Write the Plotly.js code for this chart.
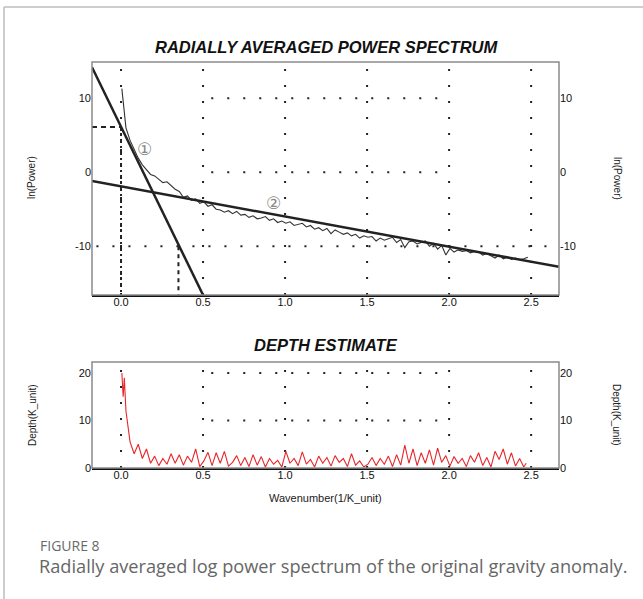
<!DOCTYPE html>
<html>
<head>
<meta charset="utf-8">
<script src="https://cdn.plot.ly/plotly-3.0.1.min.js"></script>
<style>html,body{margin:0;padding:0;background:#fff;}#chart{width:643px;height:599px;}</style>
</head>
<body>
<div id="chart"></div>
<script>
// ---- Data: radially averaged power spectrum ----
const specK = [0.005,0.030,0.055,0.080,0.105,0.130,0.155,0.180,0.205,0.230,0.255,0.280,0.305,0.330,0.355,0.380,0.405,0.430,0.455,0.480,
  0.505,0.530,0.555,0.580,0.605,0.630,0.655,0.680,0.705,0.730,0.755,0.780,0.805,0.830,0.855,0.880,0.905,0.930,0.955,0.980,
  1.005,1.030,1.055,1.080,1.105,1.130,1.155,1.180,1.205,1.230,1.255,1.280,1.305,1.330,1.355,1.380,1.405,1.430,1.455,1.480,
  1.505,1.530,1.555,1.580,1.605,1.630,1.655,1.680,1.705,1.730,1.755,1.780,1.805,1.830,1.855,1.880,1.905,1.930,1.955,1.980,
  2.005,2.030,2.055,2.080,2.105,2.130,2.155,2.180,2.205,2.230,2.255,2.280,2.305,2.330,2.355,2.380,2.405,2.430,2.455,2.480];
const lnPower = [11.3,6.0,4.3,3.0,1.9,1.0,0.4,-0.3,-0.5,-0.9,-1.4,-1.3,-1.8,-2.3,-2.6,-3.4,-3.2,-3.8,-3.6,-4.2,
  -4.0,-4.6,-4.4,-5.0,-5.1,-5.4,-5.2,-5.6,-5.3,-5.8,-5.7,-6.1,-5.9,-6.3,-6.2,-6.0,-6.5,-6.3,-6.8,-6.6,
  -6.9,-6.7,-7.2,-7.0,-6.9,-7.4,-7.2,-7.7,-7.5,-7.9,-7.6,-8.3,-7.8,-8.1,-8.4,-8.2,-8.6,-8.4,-8.9,-8.6,
  -8.8,-8.7,-9.3,-8.9,-9.2,-9.0,-8.8,-9.5,-9.1,-10.2,-9.4,-9.3,-9.7,-9.5,-9.3,-10.0,-9.6,-10.4,-9.9,-11.2,
  -10.3,-10.8,-10.5,-10.7,-10.6,-10.9,-10.7,-10.8,-11.2,-11.0,-11.3,-11.6,-11.2,-11.7,-11.5,-11.8,-11.6,-11.8,-11.7,-11.5];

// fitted segments (1) deep and (2) shallow
const fit1K = [-0.177, 0.50];
const fit1Y = [14.2, -16.6];
const fit2K = [-0.177, 2.67];
const fit2Y = [-1.2, -12.8];

// guide lines reading the intercept of fit 1
const guideHK = [-0.177, 0.0];
const guideHY = [6.1, 6.1];
const guideV1K = [0.0, 0.0];
const guideV1Y = [6.1, -16.6];
const guideV2K = [0.35, 0.35];
const guideV2Y = [-10.0, -16.6];

// ---- Data: depth estimate ----
const depthK = [0.005,0.013,0.020,0.030,0.055,0.080,0.105,0.130,0.155,0.180,0.205,0.230,0.255,0.280,0.305,0.330,0.355,0.380,0.405,0.430,
  0.455,0.480,0.505,0.530,0.555,0.580,0.605,0.630,0.655,0.680,0.705,0.730,0.755,0.780,0.805,0.830,0.855,0.880,0.905,0.930,
  0.955,0.980,1.005,1.030,1.055,1.080,1.105,1.130,1.155,1.180,1.205,1.230,1.255,1.280,1.305,1.330,1.355,1.380,1.405,1.430,
  1.455,1.480,1.505,1.530,1.555,1.580,1.605,1.630,1.655,1.680,1.705,1.730,1.755,1.780,1.805,1.830,1.855,1.880,1.905,1.930,
  1.955,1.980,2.005,2.030,2.055,2.080,2.105,2.130,2.155,2.180,2.205,2.230,2.255,2.280,2.305,2.330,2.355,2.380,2.405,2.430,
  2.455,2.470];
const depthVal = [20,15,19,12,5.5,3,5,2,4,1,2.5,0.5,2,0.8,3,1,2.8,0.6,2.5,1.2,
  4,0.3,1.5,3.3,0.5,3.2,1,3.5,0.4,1.2,2.6,0.5,2.2,0.3,2.8,0.6,2.4,0.2,2,0.8,
  1.6,0.2,3.5,1,2,0.5,3.4,0.8,1.8,0.2,2.5,1,2.2,0.4,2.6,1.2,2,0.3,3,0.6,
  1.5,0.2,0.8,2.2,0.5,2,0.8,2.5,0.3,2.8,0.6,4.8,1,4,0.5,3.2,1,3.8,0.6,4.2,
  1.2,2.6,0.4,2.4,1,2,0.3,2.6,1.2,3.2,0.5,2.2,0.2,3.5,1.8,4,0.8,3.2,0.4,2,
  0.2,1];

const kTicks = [0, 0.5, 1.0, 1.5, 2.0, 2.5];
const kTickText = ["0.0", "0.5", "1.0", "1.5", "2.0", "2.5"];
const powerTicks = [-10, 0, 10];
const powerTickText = ["-10", "0", "10"];
const depthTicks = [0, 10, 20];
const depthTickText = ["0", "10", "20"];

// ---- Layout helpers ----
const W = 643, H = 599;
const px = v => v / W;
const py = v => 1 - v / H;
const xDom = [px(92), px(559)];
const kRange = [-0.177, 2.67];
const pRange = [-16.6, 14.9];
const dRange = [0, 22.3];
const FONT = "Liberation Sans, Arial, sans-serif";
const tickFont = {family: FONT, size: 11, color: "#111"};

const traces = [
  {x: specK, y: lnPower, xaxis: "x", yaxis: "y", type: "scatter", mode: "lines",
   line: {color: "#333", width: 1.1}, hoverinfo: "skip"},
  {x: fit1K, y: fit1Y, xaxis: "x", yaxis: "y", mode: "lines", line: {color: "#222", width: 2.5}},
  {x: fit2K, y: fit2Y, xaxis: "x", yaxis: "y", mode: "lines", line: {color: "#222", width: 2.5}},
  {x: guideHK, y: guideHY, xaxis: "x", yaxis: "y", mode: "lines", line: {color: "#222", width: 2, dash: "5px,4px"}},
  {x: guideV1K, y: guideV1Y, xaxis: "x", yaxis: "y", mode: "lines", line: {color: "#222", width: 2, dash: "4px,3px,2px,3px"}},
  {x: guideV2K, y: guideV2Y, xaxis: "x", yaxis: "y", mode: "lines", line: {color: "#222", width: 2, dash: "4px,4px"}},
  {x: [null], y: [null], xaxis: "x", yaxis: "y2", mode: "lines", hoverinfo: "skip"},
  {x: depthK, y: depthVal, xaxis: "x2", yaxis: "y3", mode: "lines", line: {color: "#e8262a", width: 1.1}},
  {x: [null], y: [null], xaxis: "x2", yaxis: "y4", mode: "lines", hoverinfo: "skip"}
];

const dotLine = {color: "#222", width: 2, dash: "2px,14px"};
const shapes = [];
// vertical dotted grid lines
kTicks.forEach(k => {
  shapes.push({type: "line", xref: "x", yref: "y domain", x0: k, x1: k, y0: 0, y1: 1, line: dotLine, layer: "below"});
  shapes.push({type: "line", xref: "x2", yref: "y3 domain", x0: k, x1: k, y0: 0, y1: 1, line: dotLine, layer: "below"});
});
// partial horizontal dotted lines
[10, 0].forEach(v => shapes.push({type: "line", xref: "x", yref: "y", x0: 0.55, x1: 1.97, y0: v, y1: v, line: dotLine, layer: "below"}));
shapes.push({type: "line", xref: "x", yref: "y", x0: -0.15, x1: 2.67, y0: -10, y1: -10, line: dotLine, layer: "below"});
[20, 10].forEach(v => shapes.push({type: "line", xref: "x2", yref: "y3", x0: 0.55, x1: 1.97, y0: v, y1: v, line: dotLine, layer: "below"}));
// plot frames (gray) – bottom axis drawn black by the axis line
shapes.push({type: "rect", xref: "x domain", yref: "y domain", x0: 0, x1: 1, y0: 0, y1: 1, line: {color: "#8a8a8a", width: 1.5}});
shapes.push({type: "rect", xref: "x2 domain", yref: "y3 domain", x0: 0, x1: 1, y0: 0, y1: 1, line: {color: "#8a8a8a", width: 1.5}});
// outer figure frame
shapes.push({type: "line", xref: "paper", yref: "paper", x0: px(4), x1: 1.01, y0: py(7), y1: py(7), line: {color: "#bdbdbd", width: 1.5}});
shapes.push({type: "line", xref: "paper", yref: "paper", x0: px(4), x1: px(4), y0: py(7), y1: -0.01, line: {color: "#bdbdbd", width: 1.5}});

const axTitle = {family: FONT, size: 10, color: "#222"};
function note(text, x, y, font, extra) {
  return Object.assign({text: text, xref: "paper", yref: "paper", x: px(x), y: py(y), xanchor: "center",
    yanchor: "middle", showarrow: false, font: font}, extra || {});
}
const annotations = [
  note("<b><i>RADIALLY AVERAGED POWER SPECTRUM</i></b>", 326, 47, {family: FONT, size: 16.5, color: "#111"}),
  note("<b><i>DEPTH ESTIMATE</i></b>", 326, 345, {family: FONT, size: 16.5, color: "#111"}),
  note("ln(Power)", 32, 178, axTitle, {textangle: -90}),
  note("ln(Power)", 617, 178, axTitle, {textangle: 90}),
  note("Depth(K_unit)", 32, 415, axTitle, {textangle: -90}),
  note("Depth(K_unit)", 617, 415, axTitle, {textangle: 90}),
  note("Wavenumber(1/K_unit)", 325, 498, {family: FONT, size: 11, color: "#222"}),
  {text: "①", xref: "x", yref: "y", x: 0.146, y: 3.2, showarrow: false, font: {family: "DejaVu Sans", size: 17, color: "#888"}},
  {text: "②", xref: "x", yref: "y", x: 0.93, y: -4.2, showarrow: false, font: {family: "DejaVu Sans", size: 17, color: "#888"}},
  note("FIGURE 8", 38, 545, {family: "Open Sans", size: 14, color: "#6a6a6a"}, {xanchor: "left"}),
  note("Radially averaged log power spectrum of the original gravity anomaly.", 37, 566,
    {family: "Open Sans", size: 18.2, color: "#666"}, {xanchor: "left"})
];

const xCommon = {range: kRange, tickvals: kTicks, ticktext: kTickText, showgrid: false, zeroline: false,
  showline: true, linecolor: "#111", linewidth: 2, ticks: "", tickfont: tickFont, ticklabelstandoff: -4};

const yCommon = {showgrid: false, zeroline: false, showline: false, ticks: "", tickfont: tickFont};

const layout = {
  width: W, height: H,
  margin: {l: 0, r: 0, t: 0, b: 0},
  paper_bgcolor: "#fff", plot_bgcolor: "#fff",
  showlegend: false,
  xaxis: Object.assign({}, xCommon, {domain: xDom, anchor: "y"}),
  xaxis2: Object.assign({}, xCommon, {domain: xDom, anchor: "y3"}),
  yaxis: Object.assign({}, yCommon, {domain: [py(295), py(62)], range: pRange, tickvals: powerTicks, ticktext: powerTickText, anchor: "x"}),
  yaxis2: Object.assign({}, yCommon, {domain: [py(295), py(62)], range: pRange, tickvals: powerTicks, ticktext: powerTickText,
    overlaying: "y", side: "right", anchor: "x"}),
  yaxis3: Object.assign({}, yCommon, {domain: [py(468), py(362)], range: dRange, tickvals: depthTicks, ticktext: depthTickText, anchor: "x2"}),
  yaxis4: Object.assign({}, yCommon, {domain: [py(468), py(362)], range: dRange, tickvals: depthTicks, ticktext: depthTickText,
    overlaying: "y3", side: "right", anchor: "x2"}),
  shapes: shapes,
  annotations: annotations
};

Plotly.newPlot("chart", traces, layout, {displayModeBar: false, staticPlot: true});
</script>
</body>
</html>
